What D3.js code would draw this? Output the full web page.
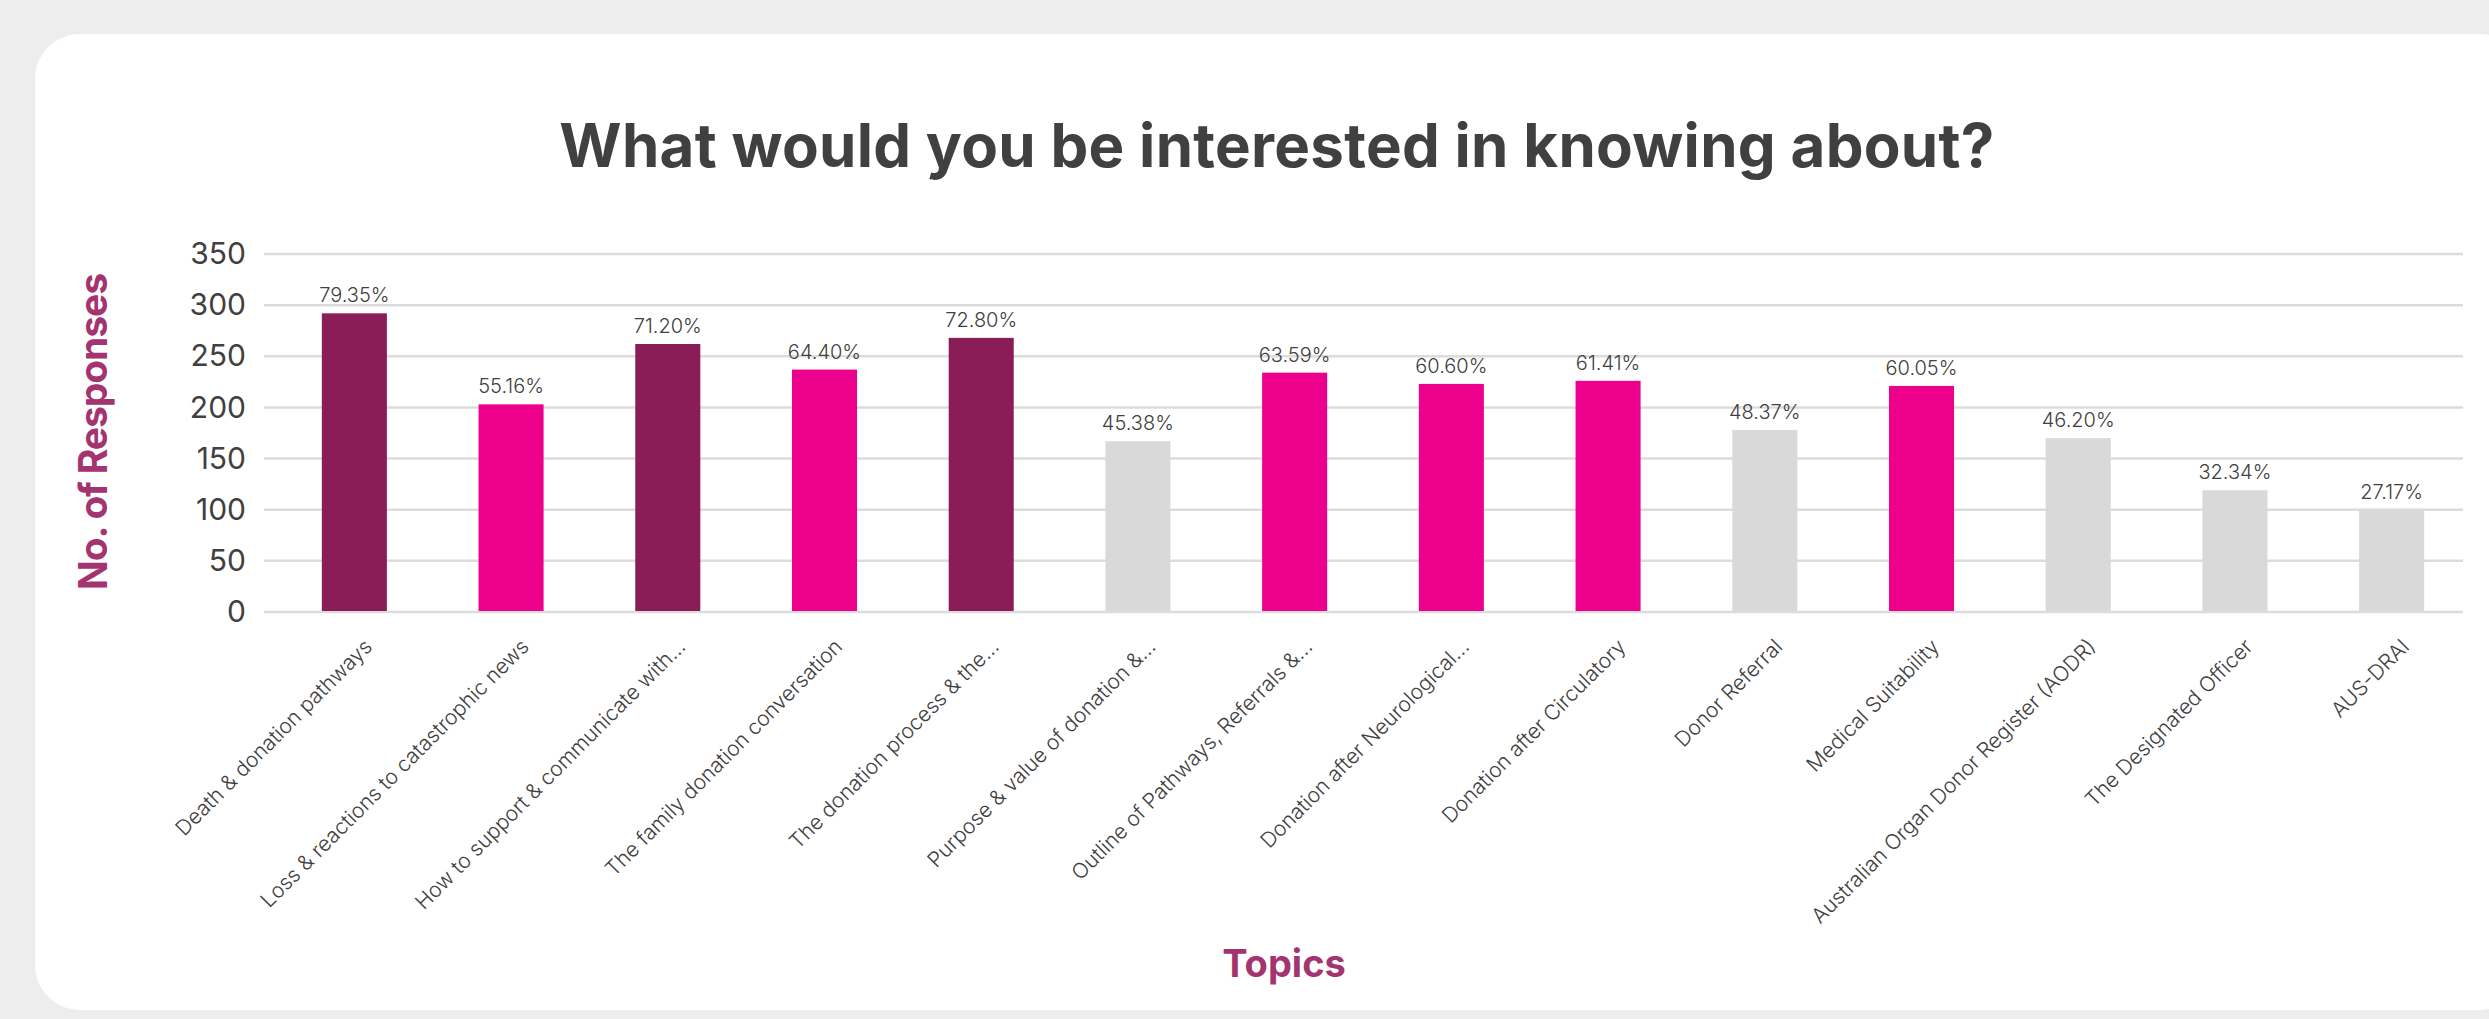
<!DOCTYPE html>
<html>
<head>
<meta charset="utf-8">
<script src="https://cdn.jsdelivr.net/npm/d3@7"></script>
<style>
    body { margin: 0; background: #ededed; overflow: hidden; }
    svg { display: block; }
</style>
</head>
<body>
<div id="chart"></div>
<script>
const topics = [
    "Death & donation pathways",
    "Loss & reactions to catastrophic news",
    "How to support & communicate with...",
    "The family donation conversation",
    "The donation process & the...",
    "Purpose & value of donation &...",
    "Outline of Pathways, Referrals &...",
    "Donation after Neurological...",
    "Donation after Circulatory",
    "Donor Referral",
    "Medical Suitability",
    "Australian Organ Donor Register (AODR)",
    "The Designated Officer",
    "AUS-DRAI"
];
const responses = [292, 203, 262, 237, 268, 167, 234, 223, 226, 178, 221, 170, 119, 100];
const percentLabels = ["79.35%", "55.16%", "71.20%", "64.40%", "72.80%", "45.38%", "63.59%",
    "60.60%", "61.41%", "48.37%", "60.05%", "46.20%", "32.34%", "27.17%"];
const interestGroup = ["high", "mid", "high", "mid", "high", "low", "mid",
    "mid", "mid", "low", "mid", "low", "low", "low"];
const yTicks = [0, 50, 100, 150, 200, 250, 300, 350];

const chartTitle = "What would you be interested in knowing about?";
const yTitle = "No. of Responses";
const xTitle = "Topics";

const width = 2489;
const height = 1019;
const textColor = "#404040";
const accent = "#a4346f";
const font = "Inter, 'DejaVu Sans', sans-serif";

const data = topics.map((t, i) => ({
    topic: t,
    value: responses[i],
    label: percentLabels[i],
    group: interestGroup[i]
}));

function fitText(sel, target) {
    const len = sel.node().getComputedTextLength();
    const n = sel.text().length;
    sel.attr("letter-spacing", (target - len) / (n - 1));
}

const svg = d3.select("#chart").append("svg")
    .attr("width", width)
    .attr("height", height);

// card background
svg.append("rect")
    .attr("x", 35)
    .attr("y", 34)
    .attr("width", width)
    .attr("height", 976)
    .attr("rx", 45)
    .attr("fill", "#ffffff");

const xScale = d3.scaleBand()
    .domain(topics)
    .range([276, 2470])
    .paddingInner(0.585)
    .paddingOuter(0.2925);

const yScale = d3.scaleLinear()
    .domain([0, 350])
    .range([612, 254]);

const colorScale = d3.scaleOrdinal()
    .domain(["high", "mid", "low"])
    .range(["#8a1c57", "#ec008c", "#d8d9d8"]);

// gridlines
svg.append("g")
    .selectAll("line")
    .data(yTicks)
    .join("line")
    .attr("x1", 264)
    .attr("x2", 2463)
    .attr("y1", d => yScale(d))
    .attr("y2", d => yScale(d))
    .attr("stroke", "#dcdcdc")
    .attr("stroke-width", 2.5);

// y axis labels
const yAxis = d3.axisLeft(yScale)
    .tickValues(yTicks)
    .tickSize(0)
    .tickPadding(0);

svg.append("g")
    .attr("transform", "translate(246,0)")
    .call(yAxis)
    .call(g => g.select(".domain").remove())
    .selectAll("text")
    .attr("font-family", font)
    .attr("font-size", 30)
    .attr("fill", textColor);

// bars
svg.append("g")
    .selectAll("rect")
    .data(data)
    .join("rect")
    .attr("x", d => xScale(d.topic))
    .attr("y", d => yScale(d.value))
    .attr("width", xScale.bandwidth())
    .attr("height", d => yScale(0) - yScale(d.value) - 1)
    .attr("fill", d => colorScale(d.group));

// percentage labels
svg.append("g")
    .selectAll("text")
    .data(data)
    .join("text")
    .attr("x", d => xScale(d.topic) + xScale.bandwidth() / 2)
    .attr("y", d => yScale(d.value) - 11)
    .attr("text-anchor", "middle")
    .attr("font-family", font)
    .attr("font-weight", 300)
    .attr("font-size", 20)
    .attr("fill", textColor)
    .text(d => d.label);

// x axis labels
const xAxis = d3.axisBottom(xScale)
    .tickSize(0)
    .tickPadding(0);

svg.append("g")
    .attr("transform", "translate(0,612)")
    .call(xAxis)
    .call(g => g.select(".domain").remove())
    .selectAll("text")
    .attr("font-family", font)
    .attr("font-weight", 300)
    .attr("font-size", 21)
    .attr("fill", textColor)
    .attr("text-anchor", "end")
    .attr("dy", 0)
    .attr("y", 0)
    .attr("transform", "translate(19,36) rotate(-45)");

// title
const title = svg.append("text")
    .attr("x", 1277)
    .attr("y", 167)
    .attr("text-anchor", "middle")
    .attr("font-family", font)
    .attr("font-weight", 700)
    .attr("font-size", 60)
    .attr("fill", textColor)
    .text(chartTitle);
fitText(title, 1435);

const yLabel = svg.append("text")
    .attr("transform", "translate(107,432) rotate(-90)")
    .attr("text-anchor", "middle")
    .attr("font-family", font)
    .attr("font-weight", 700)
    .attr("font-size", 39)
    .attr("fill", accent)
    .text(yTitle);
fitText(yLabel, 317);

svg.append("text")
    .attr("x", 1284)
    .attr("y", 977)
    .attr("text-anchor", "middle")
    .attr("font-family", font)
    .attr("font-weight", 700)
    .attr("font-size", 38)
    .attr("fill", accent)
    .text(xTitle);
</script>
</body>
</html>
